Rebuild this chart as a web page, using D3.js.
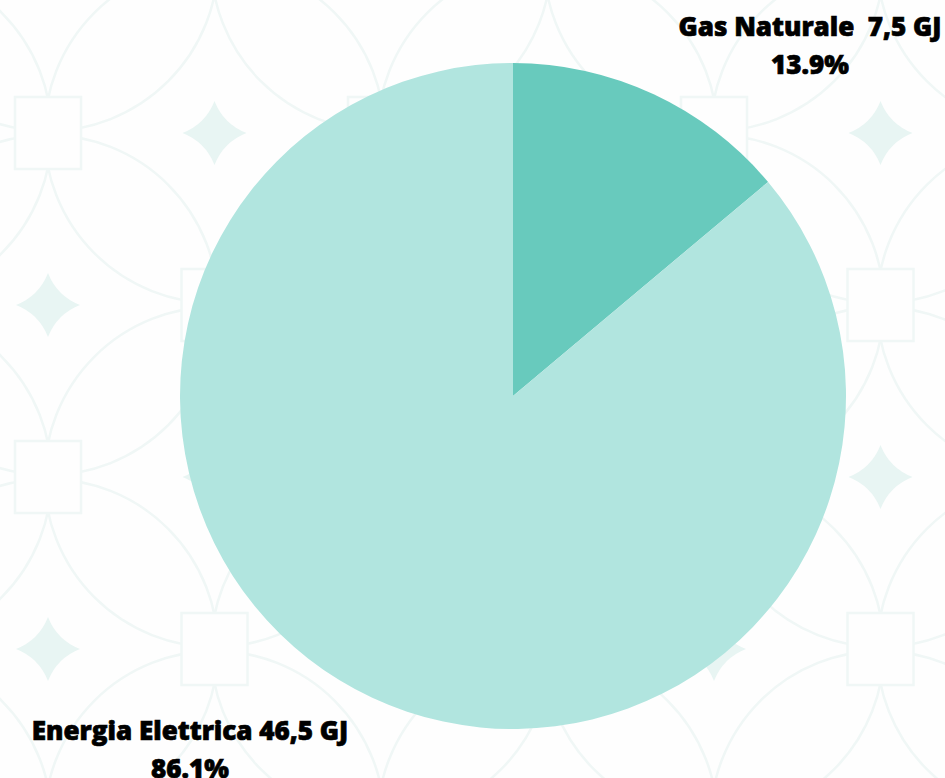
<!DOCTYPE html>
<html lang="it">
<head>
<meta charset="utf-8">
<title>Consumi energetici</title>
<script src="https://cdn.jsdelivr.net/npm/d3@7/dist/d3.min.js"></script>
<style>
  * { margin: 0; padding: 0; box-sizing: border-box; }
  body { background: #fefefe; overflow: hidden; }
  svg { display: block; font-family: "Open Sans", sans-serif; }
</style>
</head>
<body>
<svg id="chart" width="945" height="778"></svg>
<script>
const categories = ['Gas Naturale', 'Energia Elettrica']
const values = [7.5, 46.5]
const valueLabels = ['7,5 GJ', '46,5 GJ']
const percentLabels = ['13.9%', '86.1%']
const colors = ['#68cabd', '#b1e5df']

const W = 945, H = 778
const cx = 513, cy = 396, R = 333

const svg = d3.select('#chart')

// faint decorative background: interlocking circles, squares, little stars
const bg = svg.append('g')
const stepX = 166.5, stepY = 172, x0 = 48, y0 = 133
const cells = []
for (let j = -1; j <= 4; j++) {
  for (let i = -1; i <= 6; i++) {
    cells.push({ x: x0 + i * stepX, y: y0 + j * stepY, odd: ((i + j) % 2 + 2) % 2 === 1 })
  }
}
bg.selectAll('circle')
  .data(cells.filter(c => c.odd))
  .join('circle')
  .attr('cx', d => d.x).attr('cy', d => d.y).attr('r', 170)
  .attr('fill', 'none').attr('stroke', '#f0f7f6').attr('stroke-width', 2.5)

bg.selectAll('rect')
  .data(cells.filter(c => !c.odd))
  .join('rect')
  .attr('x', d => d.x - 33).attr('y', d => d.y - 36)
  .attr('width', 66).attr('height', 72)
  .attr('fill', '#fefefe').attr('stroke', '#f0f7f6').attr('stroke-width', 2.5)

const starPath = (x, y, s) => {
  const k = s * 0.28
  return 'M' + x + ',' + (y - s) +
    ' Q' + (x + k) + ',' + (y - k) + ' ' + (x + s) + ',' + y +
    ' Q' + (x + k) + ',' + (y + k) + ' ' + x + ',' + (y + s) +
    ' Q' + (x - k) + ',' + (y + k) + ' ' + (x - s) + ',' + y +
    ' Q' + (x - k) + ',' + (y - k) + ' ' + x + ',' + (y - s) + 'Z'
}
bg.selectAll('path')
  .data(cells.filter(c => c.odd))
  .join('path')
  .attr('d', d => starPath(d.x, d.y, 32))
  .attr('fill', '#e8f5f3')

// pie
const pie = d3.pie().sort(null).value(d => d)
const arc = d3.arc().innerRadius(0).outerRadius(R)

svg.append('g')
  .attr('transform', 'translate(' + cx + ',' + cy + ')')
  .selectAll('path')
  .data(pie(values))
  .join('path')
  .attr('d', arc)
  .attr('fill', (d, i) => colors[i])

// labels
const labelPos = [
  { x: 810, y: 36, l1: categories[0] + '\u00a0\u00a0' + valueLabels[0] },
  { x: 190, y: 740, l1: categories[1] + ' ' + valueLabels[1] }
]
const labels = svg.append('g')
labelPos.forEach((p, i) => {
  const t = labels.append('text')
    .attr('text-anchor', 'middle')
    .attr('font-size', 26)
    .attr('font-weight', 800)
    .attr('fill', '#000')
    .attr('stroke', '#000')
    .attr('stroke-width', 0.7)
  t.append('tspan').attr('x', p.x).attr('y', p.y).text(p.l1)
  t.append('tspan').attr('x', p.x).attr('y', p.y + 38).text(percentLabels[i])
})
</script>
</body>
</html>
